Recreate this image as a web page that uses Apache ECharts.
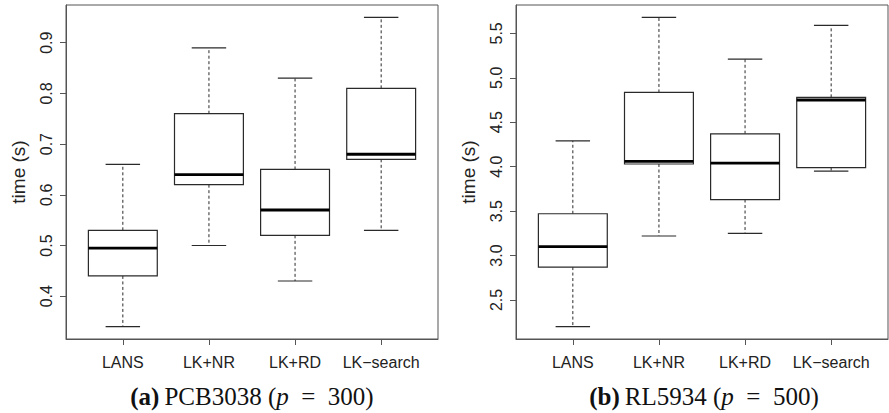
<!DOCTYPE html>
<html>
<head>
<meta charset="utf-8">
<script src="https://cdn.jsdelivr.net/npm/echarts@6/dist/echarts.min.js"></script>
<style>html,body{margin:0;padding:0;background:#fff}#c{width:889px;height:413px}</style>
</head>
<body>
<div id="c"></div>
<script>
// Categories
const categories = ['LANS', 'LK+NR', 'LK+RD', 'LK\u2212search'];
// Panel (a) PCB3038: [min, Q1, median, Q3, max]
const pcbLow    = [0.34, 0.50, 0.43, 0.53];
const pcbQ1     = [0.44, 0.62, 0.52, 0.67];
const pcbMedian = [0.495, 0.64, 0.57, 0.68];
const pcbQ3     = [0.53, 0.76, 0.65, 0.81];
const pcbHigh   = [0.66, 0.89, 0.83, 0.95];
// Panel (b) RL5934
const rlLow    = [2.20, 3.22, 3.25, 3.95];
const rlQ1     = [2.87, 4.03, 3.63, 3.99];
const rlMedian = [3.10, 4.06, 4.04, 4.75];
const rlQ3     = [3.47, 4.835, 4.37, 4.78];
const rlHigh   = [4.29, 5.68, 5.21, 5.59];
// Tick labels
const pcbTicks = [0.4, 0.5, 0.6, 0.7, 0.8, 0.9];
const rlTicks  = [2.5, 3.0, 3.5, 4.0, 4.5, 5.0, 5.5];
const catPositions = [1, 2, 3, 4];

function rows(lo, q1, md, q3, hi) {
  return categories.map((c, i) => [i + 1, lo[i], q1[i], md[i], q3[i], hi[i]]);
}
// R style range extension (4%)
function ext(lo, hi) {
  const a = Math.min(...lo), b = Math.max(...hi), d = (b - a) * 0.04;
  return [a - d, b + d];
}
const pcbExt = ext(pcbLow, pcbHigh);
const rlExt = ext(rlLow, rlHigh);

const dark = '#2a2a2a';
const frame = '#555';
const font = 'Liberation Sans';

function renderBox(params, api) {
  const x = api.value(0);
  const lo = api.coord([x, api.value(1)]);
  const q1 = api.coord([x, api.value(2)]);
  const md = api.coord([x, api.value(3)]);
  const q3 = api.coord([x, api.value(4)]);
  const hi = api.coord([x, api.value(5)]);
  const band = api.size([1, 0])[0];
  const hw = band * 0.4, cw = band * 0.2;
  const cx = lo[0];
  const dash = { stroke: dark, lineWidth: 1, lineDash: [3, 2.5] };
  const solid = { stroke: dark, lineWidth: 1.2 };
  return {
    type: 'group',
    children: [
      { type: 'line', shape: { x1: cx, y1: q3[1], x2: cx, y2: hi[1] }, style: dash },
      { type: 'line', shape: { x1: cx, y1: q1[1], x2: cx, y2: lo[1] }, style: dash },
      { type: 'line', shape: { x1: cx - cw, y1: hi[1], x2: cx + cw, y2: hi[1] }, style: solid },
      { type: 'line', shape: { x1: cx - cw, y1: lo[1], x2: cx + cw, y2: lo[1] }, style: solid },
      { type: 'rect', shape: { x: cx - hw, y: q3[1], width: 2 * hw, height: q1[1] - q3[1] }, style: { fill: '#fff', stroke: dark, lineWidth: 1.2 } },
      { type: 'line', shape: { x1: cx - hw, y1: md[1], x2: cx + hw, y2: md[1] }, style: { stroke: '#000', lineWidth: 2.8 } }
    ]
  };
}

function xAxisFor(gi) {
  return {
    gridIndex: gi, type: 'value', min: 0.34, max: 4.66,
    axisLine: { show: true, lineStyle: { color: frame, width: 1 } },
    splitLine: { show: false },
    axisTick: { show: true, customValues: catPositions, length: 6, lineStyle: { color: frame } },
    axisLabel: { customValues: catPositions, formatter: v => categories[Math.round(v) - 1], fontFamily: font, fontSize: 16, color: '#222', margin: 15 }
  };
}
function yAxisFor(gi, e, ticks) {
  return {
    gridIndex: gi, type: 'value', min: e[0], max: e[1],
    name: '{n|time (s)}', nameLocation: 'middle', nameRotate: 90, nameGap: 38,
    nameTextStyle: { fontFamily: font, fontSize: 19, color: '#222', rich: { n: { fontFamily: font, fontSize: 19, color: '#222' } } },
    axisLine: { show: true, lineStyle: { color: frame, width: 1 } },
    splitLine: { show: false },
    axisTick: { show: true, customValues: ticks, length: 6, lineStyle: { color: frame } },
    axisLabel: { customValues: ticks, rotate: 90, formatter: v => v.toFixed(1), fontFamily: font, fontSize: 16, color: '#222', margin: 12 }
  };
}
const serif = 'Liberation Serif';
const rich = {
  b: { fontFamily: serif, fontSize: 25, fontWeight: 'bold', color: '#111' },
  r: { fontFamily: serif, fontSize: 25, fontWeight: 'normal', color: '#111' },
  i: { fontFamily: serif, fontSize: 25, fontWeight: 'normal', fontStyle: 'italic', color: '#111' }
};

const chart = echarts.init(document.getElementById('c'), null, { renderer: 'svg' });
chart.setOption({
  animation: false,
  backgroundColor: '#fff',
  title: [
    { text: '{b|(a)} {r|PCB3038 (}{i|p}{r|\u2002=\u2002300)}', left: 252, top: 384, textAlign: 'center', padding: 0, textStyle: { fontWeight: 'normal', rich } },
    { text: '{b|(b)} {r|RL5934 (}{i|p}{r|\u2002=\u2002500)}', left: 704, top: 384, textAlign: 'center', padding: 0, textStyle: { fontWeight: 'normal', rich } }
  ],
  grid: [
    { left: 66, top: 5, width: 372, height: 334, show: true, borderColor: frame, borderWidth: 1, backgroundColor: 'transparent' },
    { left: 516, top: 5, width: 372, height: 334, show: true, borderColor: frame, borderWidth: 1, backgroundColor: 'transparent' }
  ],
  xAxis: [xAxisFor(0), xAxisFor(1)],
  yAxis: [yAxisFor(0, pcbExt, pcbTicks), yAxisFor(1, rlExt, rlTicks)],
  series: [
    { type: 'custom', xAxisIndex: 0, yAxisIndex: 0, renderItem: renderBox, data: rows(pcbLow, pcbQ1, pcbMedian, pcbQ3, pcbHigh), encode: { x: 0, y: [1, 2, 3, 4, 5] } },
    { type: 'custom', xAxisIndex: 1, yAxisIndex: 1, renderItem: renderBox, data: rows(rlLow, rlQ1, rlMedian, rlQ3, rlHigh), encode: { x: 0, y: [1, 2, 3, 4, 5] } }
  ]
});
</script>
</body>
</html>
